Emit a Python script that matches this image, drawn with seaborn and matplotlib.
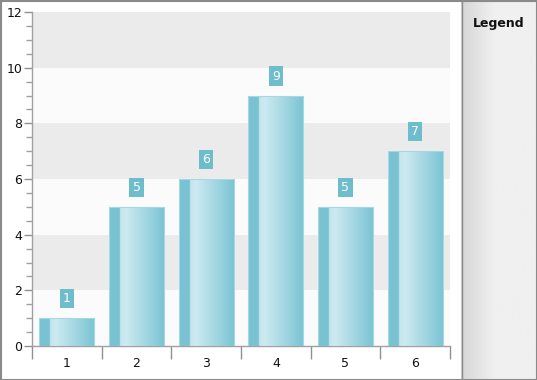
import numpy as np
import pandas as pd
import seaborn as sns
import matplotlib.pyplot as plt
from matplotlib.colors import LinearSegmentedColormap
from matplotlib.patches import Rectangle
from matplotlib.ticker import MultipleLocator, FixedLocator, NullFormatter

categories = ['1', '2', '3', '4', '5', '6']
values = [1, 5, 6, 9, 5, 7]
y_ticks = [0, 2, 4, 6, 8, 10, 12]

sns.set_style('white')
plt.rcParams['font.family'] = ['DejaVu Sans']

W, H = 537, 380
fig = plt.figure(figsize=(W / 100, H / 100), dpi=100)
fig.patch.set_facecolor('white')

ax = fig.add_axes([32 / W, 34 / H, 418 / W, 334 / H])
ax.set_facecolor('white')

df = pd.DataFrame({'cat': categories, 'val': values})
sns.barplot(data=df, x='cat', y='val', ax=ax, color='#7cc4d4', width=0.79,
            saturation=1, zorder=2)
bars = list(ax.patches)

# alternating bands
for i, lo in enumerate(range(0, 12, 2)):
    ax.axhspan(lo, lo + 2, color='#fbfbfb' if i % 2 == 0 else '#ebebeb', zorder=0, lw=0)

cmap = LinearSegmentedColormap.from_list('bar', [
    (0.0, '#78c2d2'), (0.19, '#7ac3d3'), (0.2, '#c3e5ed'), (0.3, '#cdeaf1'),
    (1.0, '#79c3d3')])
grad = np.linspace(0, 1, 256).reshape(1, -1)
for p in bars:
    x0, y0 = p.get_x(), p.get_y()
    w, h = p.get_width(), p.get_height()
    im = ax.imshow(grad, cmap=cmap, aspect='auto', extent=[x0, x0 + w, y0, y0 + h],
                   zorder=3, interpolation='bilinear')
    im.set_clip_path(p)
    ax.add_patch(Rectangle((x0, y0), w, h, fill=False, ec='#a6d8e3', lw=0.8, zorder=4))

for i, v in enumerate(values):
    ax.text(i, v + 0.7, str(v), color='white', ha='center', va='center', fontsize=9,
            zorder=5, bbox=dict(boxstyle='square,pad=0.25', fc='#6dbdcd', ec='none'))

ax.set_xlim(-0.5, 5.5)
ax.set_ylim(0, 12)
ax.set_xlabel('')
ax.set_ylabel('')
ax.set_yticks(y_ticks)
ax.yaxis.set_minor_locator(MultipleLocator(0.5))
ax.xaxis.set_minor_locator(FixedLocator(np.arange(-0.5, 6, 1)))
ax.xaxis.set_minor_formatter(NullFormatter())
ax.tick_params(axis='y', which='major', length=6, width=1, color='#909090',
               labelsize=9, labelcolor='#111111', pad=1, left=True)
ax.tick_params(axis='y', which='minor', length=4, width=1, color='#a0a0a0', left=True)
ax.tick_params(axis='x', which='major', length=0, labelsize=9, labelcolor='#111111', pad=8)
ax.tick_params(axis='x', which='minor', length=9, width=1, color='#909090', bottom=True)
for s in ['top', 'right']:
    ax.spines[s].set_visible(False)
for s in ['left', 'bottom']:
    ax.spines[s].set_color('#a0a0a0')
    ax.spines[s].set_linewidth(1)

# legend panel
lax = fig.add_axes([461 / W, 1 / H, 75 / W, 378 / H])
lcmap = LinearSegmentedColormap.from_list('leg', [
    (0.0, '#d6d6d6'), (0.45, '#f0f0f0'), (1.0, '#f0f0f0')])
lax.imshow(grad, cmap=lcmap, aspect='auto', extent=[0, 1, 0, 1], interpolation='bilinear')
lax.set_xlim(0, 1)
lax.set_ylim(0, 1)
lax.set_xticks([])
lax.set_yticks([])
for s in lax.spines.values():
    s.set_visible(False)
lax.text(0.5, 1 - 22 / 378, 'Legend', ha='center', va='center', fontsize=9,
         fontweight='bold', color='#111111')

fig.add_artist(plt.Line2D([461.5 / W, 461.5 / W], [0, 1], color='#8a8a8a', lw=1,
                          transform=fig.transFigure))
fig.add_artist(Rectangle((0.5 / W, 0.5 / H), 1 - 1 / W, 1 - 1 / H, fill=False,
                         ec='#8a8a8a', lw=1.5, transform=fig.transFigure))

fig.savefig('out.png', dpi=100)
